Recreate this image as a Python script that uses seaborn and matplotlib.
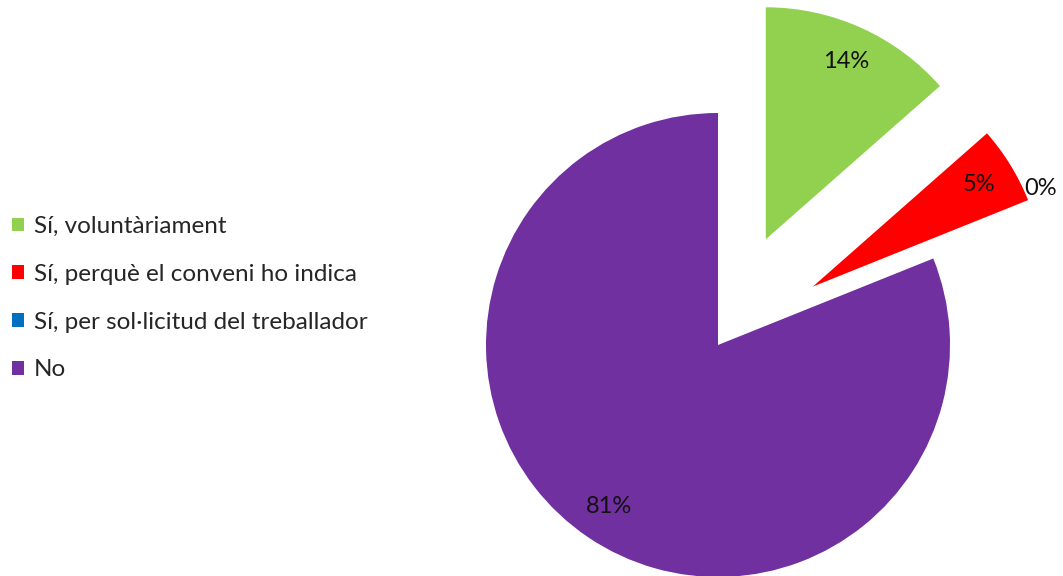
"""
Pie chart: Sí / No responses, exploded slices with legend on the left.
"""

import numpy as np
import matplotlib
matplotlib.use('Agg')
import matplotlib.pyplot as plt
import seaborn as sns

# counts behind the percentages (5/37, 2/37, 0/37, 30/37)
CATEGORIES = ["Sí, voluntàriament",
              "Sí, perquè el conveni ho indica",
              "Sí, per sol·licitud del treballador",
              "No"]
COUNTS = [5, 2, 0, 30]
COLORS = ["#92D050", "#FF0000", "#0070C0", "#7030A0"]
EXPLODE = [0.5, 0.48, 0.48, 0.0]

W_PX, H_PX = 1063, 576
CX, CY, R = 718, 345, 232   # pie centre / radius in pixels


def main():
    sns.set_theme(style="white")
    plt.rcParams['font.family'] = ['Lato', 'DejaVu Sans']

    fig = plt.figure(figsize=(W_PX / 100, H_PX / 100), dpi=100)
    ax = fig.add_axes([0, 0, 1, 1])

    wedges, texts, autotexts = ax.pie(
        COUNTS, colors=COLORS, explode=EXPLODE,
        startangle=90, counterclock=False,
        autopct=lambda p: f"{p:.0f}%", pctdistance=0.84,
        textprops={'fontsize': 17, 'color': '#111111'},
        wedgeprops={'linewidth': 0},
    )

    # the empty slice: label sits just outside the red tip
    w = wedges[2]
    mid = np.deg2rad((w.theta1 + w.theta2) / 2)
    cx, cy = w.center
    autotexts[2].set_visible(False)
    ax.annotate(autotexts[2].get_text(),
                xy=(cx + np.cos(mid), cy + np.sin(mid)),
                xytext=(-12, 28), textcoords='offset pixels',
                ha='left', va='center', fontsize=17, color='#111111')

    # fix the pie to its place in the figure (1 data unit = R px)
    ax.set_xlim(-CX / R, (W_PX - CX) / R)
    ax.set_ylim(-(H_PX - CY) / R, CY / R)
    ax.set_aspect('equal')
    ax.axis('off')

    fig.legend(wedges, CATEGORIES, loc='upper left',
               bbox_to_anchor=(0.0, 1 - 204 / H_PX),
               frameon=False, fontsize=17.5,
               handlelength=0.5, handleheight=0.5, handletextpad=0.4,
               labelspacing=1.1, borderaxespad=0.0, borderpad=0.5)

    fig.savefig("out.png", dpi=100)
    plt.close(fig)


if __name__ == "__main__":
    main()
